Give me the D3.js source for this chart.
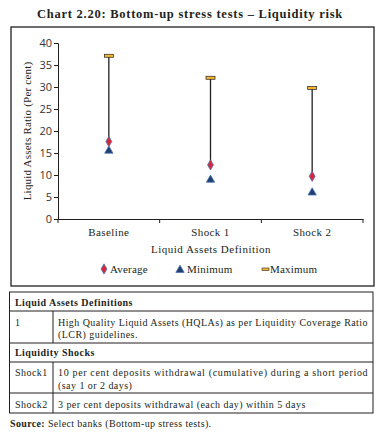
<!DOCTYPE html>
<html lang="en">
  <head>
    <meta charset="UTF-8" />
    <title>Chart 2.20</title>
    <script src="https://d3js.org/d3.v7.min.js"></script>
    <style>
      body { margin: 0; background: #fff; }
      text { fill: #231f20; }
    </style>
  </head>
  <body>
    <div id="graph"></div>
    <script>
      // data
      const categories = ["Baseline", "Shock 1", "Shock 2"];
      const average = [17.6, 12.3, 9.7];
      const minimum = [15.5, 8.9, 6.0];
      const maximum = [37.1, 32.1, 29.8];
      const yTicks = [0, 5, 10, 15, 20, 25, 30, 35, 40];

      const serif = "'Liberation Serif', 'DejaVu Serif', serif";
      const sans = "'Open Sans', 'Noto Sans', sans-serif";

      var svg = d3
        .select("#graph")
        .append("svg")
        .attr("width", 385)
        .attr("height", 440);

      // title
      svg.append("text")
        .attr("x", 190).attr("y", 18)
        .attr("text-anchor", "middle")
        .style("font-family", serif)
        .style("font-weight", "bold")
        .style("font-size", "12.5px")
        .style("letter-spacing", "0.75px")
        .text("Chart 2.20: Bottom-up stress tests \u2013 Liquidity risk");

      // chart frame
      svg.append("rect")
        .attr("x", 11).attr("y", 27)
        .attr("width", 363).attr("height", 259)
        .attr("fill", "none").attr("stroke", "#231f20").attr("stroke-width", 1.3);

      const x = d3.scaleBand().domain(categories).range([58, 363]);
      const y = d3.scaleLinear().domain([0, 40]).range([219, 43]);

      // y axis
      const yAxis = svg.append("g")
        .attr("transform", "translate(58,0)")
        .call(d3.axisLeft(y).tickValues(yTicks).tickSize(4).tickPadding(2));
      yAxis.selectAll("text")
        .style("font-family", sans).style("font-size", "11px").style("fill", "#333");
      yAxis.selectAll("line, path").attr("stroke", "#231f20");

      // x axis
      const xAxis = svg.append("g")
        .attr("transform", "translate(0,219)")
        .call(d3.axisBottom(x).tickSize(0).tickPadding(9).tickSizeOuter(0));
      xAxis.selectAll("text")
        .style("font-family", serif).style("font-size", "11px")
        .style("letter-spacing", "0.4px");
      xAxis.select("path").attr("stroke", "#231f20");
      // ticks at band edges
      const edges = categories.map((c) => x(c)).concat([x.range()[1]]);
      svg.append("g").selectAll("line").data(edges).enter().append("line")
        .attr("x1", (d) => d).attr("x2", (d) => d)
        .attr("y1", 219).attr("y2", 223)
        .attr("stroke", "#231f20");

      // axis titles
      svg.append("text")
        .attr("transform", "translate(31,131) rotate(-90)")
        .attr("text-anchor", "middle")
        .style("font-family", serif).style("font-size", "11px")
        .style("letter-spacing", "0.2px")
        .text("Liquid Assets Ratio (Per cent)");
      svg.append("text")
        .attr("x", 211).attr("y", 253)
        .attr("text-anchor", "middle")
        .style("font-family", serif).style("font-size", "11px")
        .style("letter-spacing", "0.5px")
        .text("Liquid Assets Definition");

      const cx = (i) => x(categories[i]) + x.bandwidth() / 2;

      // high-low lines (max down to average)
      svg.append("g").selectAll("line").data(categories).enter().append("line")
        .attr("x1", (d, i) => cx(i)).attr("x2", (d, i) => cx(i))
        .attr("y1", (d, i) => y(maximum[i])).attr("y2", (d, i) => y(average[i]))
        .attr("stroke", "#231f20").attr("stroke-width", 1.3);

      const tri = d3.symbol().type(d3.symbolTriangle).size(30);
      const dia = d3.symbol().type(d3.symbolDiamond).size(30);

      // minimum
      svg.append("g").selectAll("path").data(minimum).enter().append("path")
        .attr("d", tri)
        .attr("transform", (d, i) => `translate(${cx(i)},${y(d)})`)
        .attr("fill", "#1f3f6e").attr("stroke", "#4a72b0").attr("stroke-width", 0.8);

      // average
      svg.append("g").selectAll("path").data(average).enter().append("path")
        .attr("d", dia)
        .attr("transform", (d, i) => `translate(${cx(i)},${y(d)})`)
        .attr("fill", "#d9263a").attr("stroke", "#4a72b0").attr("stroke-width", 0.8);

      // maximum
      svg.append("g").selectAll("rect").data(maximum).enter().append("rect")
        .attr("x", (d, i) => cx(i) - 4.5).attr("y", (d) => y(d) - 1.5)
        .attr("width", 9).attr("height", 3)
        .attr("fill", "#f5b731").attr("stroke", "#231f20").attr("stroke-width", 0.7);

      // legend
      const lg = svg.append("g").style("font-family", serif).style("font-size", "11px")
        .style("letter-spacing", "0.2px");
      lg.append("path").attr("d", dia).attr("transform", "translate(104,269)")
        .attr("fill", "#d9263a").attr("stroke", "#4a72b0").attr("stroke-width", 0.8);
      lg.append("text").attr("x", 110).attr("y", 273).text("Average");
      lg.append("path").attr("d", tri).attr("transform", "translate(180,270)")
        .attr("fill", "#1f3f6e").attr("stroke", "#4a72b0").attr("stroke-width", 0.8);
      lg.append("text").attr("x", 187).attr("y", 273).text("Minimum");
      lg.append("rect").attr("x", 262).attr("y", 268).attr("width", 7).attr("height", 2.5)
        .attr("fill", "#f5b731").attr("stroke", "#231f20").attr("stroke-width", 0.6);
      lg.append("text").attr("x", 270).attr("y", 273).text("Maximum");

      // notes table
      const tbl = svg.append("g").style("font-family", serif).style("font-size", "10px")
        .style("letter-spacing", "0.45px");
      const rowLines = [292, 311, 343, 362, 393, 413];
      tbl.append("rect").attr("x", 9.5).attr("y", 292).attr("width", 363.5).attr("height", 121)
        .attr("fill", "none").attr("stroke", "#231f20").attr("stroke-width", 1);
      tbl.selectAll("line.h").data(rowLines.slice(1, -1)).enter().append("line")
        .attr("x1", 9.5).attr("x2", 373).attr("y1", (d) => d).attr("y2", (d) => d)
        .attr("stroke", "#231f20");
      [[311, 343], [362, 413]].forEach(([a, b]) => {
        tbl.append("line").attr("x1", 53).attr("x2", 53).attr("y1", a).attr("y2", b)
          .attr("stroke", "#231f20");
      });

      const cells = [
        { x: 15, y: 306, t: "Liquid Assets Definitions", bold: true },
        { x: 15, y: 326, t: "1" },
        { x: 58, y: 326, t: "High Quality Liquid Assets (HQLAs) as per Liquidity Coverage Ratio", w: 310 },
        { x: 58, y: 338, t: "(LCR) guidelines." },
        { x: 15, y: 356, t: "Liquidity Shocks", bold: true },
        { x: 15, y: 376, t: "Shock1" },
        { x: 58, y: 376, t: "10 per cent deposits withdrawal (cumulative) during a short period", w: 310 },
        { x: 58, y: 389, t: "(say 1 or 2 days)" },
        { x: 15, y: 408, t: "Shock2" },
        { x: 58, y: 408, t: "3 per cent deposits withdrawal (each day) within 5 days" }
      ];
      cells.forEach((c) => {
        const t = tbl.append("text").attr("x", c.x).attr("y", c.y)
          .style("font-weight", c.bold ? "bold" : "normal").text(c.t);
        if (c.w) t.attr("textLength", c.w).attr("lengthAdjust", "spacing");
      });

      const src = svg.append("text").attr("x", 10).attr("y", 427)
        .style("font-family", serif).style("font-size", "10px")
        .style("letter-spacing", "0.35px");
      src.append("tspan").style("font-weight", "bold").text("Source: ");
      src.append("tspan").text("Select banks (Bottom-up stress tests).");
    </script>
  </body>
</html>
